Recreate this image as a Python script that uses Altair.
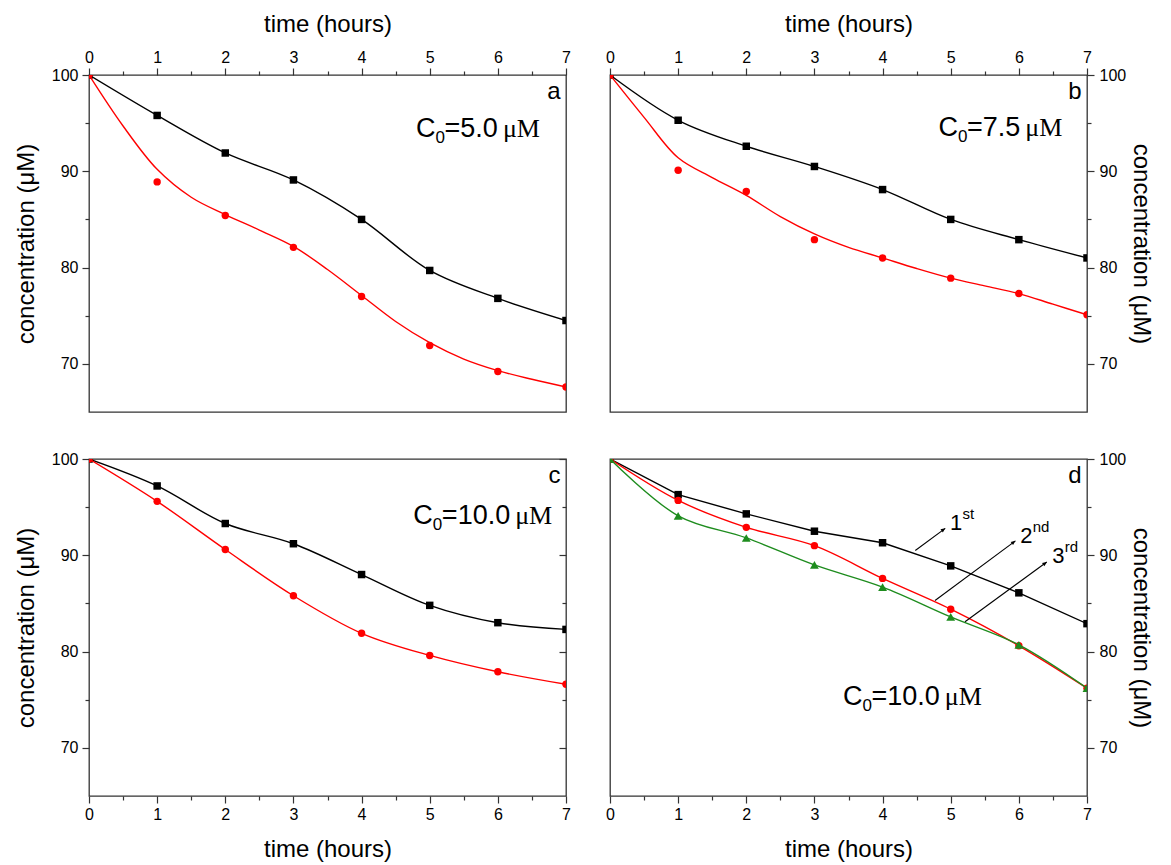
import altair as alt
import pandas as pd

# ---------------- data ----------------
hours = [0, 1, 2, 3, 4, 5, 6, 7]

a_black = [100, 95.8, 91.9, 89.1, 85.0, 79.7, 76.8, 74.5]
a_red = [100, 88.9, 85.4, 82.1, 77.0, 71.9, 69.2, 67.6]
fit_hours = [0, 0.5, 1, 1.5, 2, 2.5, 3, 3.5, 4, 4.5, 5, 5.5, 6, 6.5, 7]
a_red_fit = [100, 94.7, 90.2, 87.3, 85.5, 83.9, 82.2, 79.8, 77.1, 74.4, 72.2, 70.5, 69.3, 68.4, 67.6]

b_black = [100, 95.3, 92.6, 90.5, 88.1, 85.0, 82.9, 81.0]
b_red = [100, 90.1, 87.9, 82.9, 81.0, 78.9, 77.3, 75.1]
b_red_fit = [100, 95.6, 91.4, 89.35, 87.5, 85.3, 83.5, 82.1, 81.0, 79.9, 78.9, 78.1, 77.3, 76.2, 75.1]

c_black = [100, 97.2, 93.3, 91.2, 88.0, 84.8, 83.0, 82.3]
c_red = [100, 95.6, 90.6, 85.8, 81.9, 79.6, 77.9, 76.6]

d_first = [100, 96.3, 94.3, 92.5, 91.3, 88.9, 86.1, 82.9]
d_second = [100, 95.7, 92.9, 91.0, 87.6, 84.4, 80.6, 76.2]
d_third = [100, 94.1, 91.8, 89.0, 86.7, 83.6, 80.7, 76.2]

x_tick_values = [0, 0.5, 1, 1.5, 2, 2.5, 3, 3.5, 4, 4.5, 5, 5.5, 6, 6.5, 7]
y_tick_values = [70, 75, 80, 85, 90, 95, 100]

panel_letters = {"a": "a", "b": "b", "c": "c", "d": "d"}
conc_labels = {"a": "=5.0", "b": "=7.5", "c": "=10.0", "d": "=10.0"}
cycle_labels = [("1", "st"), ("2", "nd"), ("3", "rd")]

# ---------------- layout / style ----------------
W, H = 477, 337
SANS = "Liberation Sans"
SERIF = "Liberation Serif"
BLACK, RED, GREEN = "#000000", "#ff0000", "#1e8c1e"
AXC = "#333333"
SQ, CI, TR = 56, 55, 78

xs = alt.Scale(domain=[0, 7], nice=False, zero=False)
ys = alt.Scale(domain=[65, 100], nice=False, zero=False)


def x_axis(orient):
    return alt.Axis(
        orient=orient, title="time (hours)", values=x_tick_values,
        labelExpr="datum.value % 1 === 0 ? '' + datum.value : ''",
        tickSize={"condition": {"test": "datum.value % 1 === 0", "value": 7}, "value": 4},
        grid=False, domain=False, tickColor=AXC, tickWidth=1.2,
        labelFont=SANS, labelFontSize=16, labelColor="black", labelPadding=3,
        labelFlush=False, labelOverlap=False,
        titleFont=SANS, titleFontSize=24, titleFontWeight="normal", titleColor="black",
        titlePadding=13 if orient == "top" else 15,
    )


def y_axis(orient):
    return alt.Axis(
        orient=orient, title="concentration (μM)", values=y_tick_values,
        labelExpr="datum.value % 10 === 0 ? '' + datum.value : ''",
        tickSize={"condition": {"test": "datum.value % 10 === 0", "value": 7}, "value": 4},
        grid=False, domain=False, tickColor=AXC, tickWidth=1.2,
        labelFont=SANS, labelFontSize=16, labelColor="black",
        labelPadding=4 if orient == "left" else 5,
        labelFlush=False, labelOverlap=False,
        titleFont=SANS, titleFontSize=24, titleFontWeight="normal", titleColor="black",
        titlePadding=13 if orient == "left" else 3,
    )


mirror_axis = alt.Axis(
    orient="right", title=None, values=y_tick_values, labels=False,
    tickSize={"condition": {"test": "datum.value % 10 === 0", "value": -7}, "value": -4},
    grid=False, domain=False, tickColor=AXC, tickWidth=1.2,
)


def frame(xs_list, ys_list):
    return pd.DataFrame({"t": xs_list, "c": ys_list})


def series(pts, color, shape, size, interp, xa, ya, line_df=None):
    ldf = line_df if line_df is not None else pts
    line = alt.Chart(ldf).mark_line(color=color, strokeWidth=1.4, interpolate=interp, clip=True).encode(
        x=alt.X("t:Q", scale=xs, axis=xa), y=alt.Y("c:Q", scale=ys, axis=ya))
    dots = alt.Chart(pts).mark_point(shape=shape, filled=True, size=size, color=color, opacity=1,
                                     clip=True).encode(
        x=alt.X("t:Q", scale=xs, axis=xa), y=alt.Y("c:Q", scale=ys, axis=ya))
    return [line, dots]


def label(txt, x, y, xa, ya, font=SANS, size=24, dx=0, dy=0, align="left"):
    df = pd.DataFrame({"t": [x], "c": [y], "s": [txt]})
    return alt.Chart(df).mark_text(font=font, fontSize=size, dx=dx, dy=dy, align=align,
                                   baseline="middle", color="black").encode(
        x=alt.X("t:Q", scale=xs, axis=xa), y=alt.Y("c:Q", scale=ys, axis=ya), text="s:N")


def conc(key, x0, y0, xa, ya):
    rest = conc_labels[key]
    w_rest = 53.3 if len(rest) == 4 else 68.3
    return [
        label("C", x0, y0, xa, ya, size=27),
        label("0", x0, y0, xa, ya, size=17, dx=19.5, dy=9),
        label(rest, x0, y0, xa, ya, size=27, dx=28.5),
        label("μM", x0, y0, xa, ya, font=SERIF, size=26, dx=28.5 + w_rest + 5),
    ]


LETTER_X, LETTER_Y = 6.92, 98.2
SMOOTH = "catmull-rom"

# ---- panel a ----
xa, ya = x_axis("top"), y_axis("left")
la = []
la += series(frame(hours, a_black), BLACK, "square", SQ, SMOOTH, xa, ya)
la += series(frame(hours, a_red), RED, "circle", CI, SMOOTH, xa, ya, line_df=frame(fit_hours, a_red_fit))
la += [label(panel_letters["a"], LETTER_X, LETTER_Y, xa, ya, align="right")]
la += conc("a", 4.8, 94.4, xa, ya)
pa = alt.layer(*la).properties(width=W, height=H)

# ---- panel b ----
xa, ya = x_axis("top"), y_axis("right")
lb = []
lb += series(frame(hours, b_black), BLACK, "square", SQ, SMOOTH, xa, ya)
lb += series(frame(hours, b_red), RED, "circle", CI, SMOOTH, xa, ya, line_df=frame(fit_hours, b_red_fit))
lb += [label(panel_letters["b"], LETTER_X, LETTER_Y, xa, ya, align="right")]
lb += conc("b", 4.82, 94.5, xa, ya)
pb = alt.layer(*lb).properties(width=W, height=H)

# ---- panel c ----
xa, ya = x_axis("bottom"), y_axis("left")
lc = []
lc += series(frame(hours, c_black), BLACK, "square", SQ, SMOOTH, xa, ya)
lc += series(frame(hours, c_red), RED, "circle", CI, SMOOTH, xa, ya)
lc += [label(panel_letters["c"], LETTER_X, LETTER_Y, xa, ya, align="right")]
lc += conc("c", 4.76, 94.1, xa, ya)
mirror = alt.Chart(frame(hours, c_black)).mark_point(opacity=0).encode(
    x=alt.X("t:Q", scale=xs, axis=xa), y=alt.Y("c:Q", scale=ys, axis=mirror_axis))
pc = alt.layer(alt.layer(*lc), mirror).resolve_axis(y="independent").properties(width=W, height=H)

# ---- panel d ----
xa, ya = x_axis("bottom"), y_axis("right")
ld = []
ld += series(frame(hours, d_first), BLACK, "square", SQ, "linear", xa, ya)
ld += series(frame(hours, d_second), RED, "circle", CI, SMOOTH, xa, ya)
ld += series(frame(hours, d_third), GREEN, "triangle-up", TR, SMOOTH, xa, ya)
arrow_start_t = [4.48, 4.77, 5.21]
arrow_start_c = [90.5, 85.3, 83.1]
arrow_tip_t = [4.92, 5.95, 6.41]
arrow_tip_c = [92.8, 91.5, 89.3]
arrows = pd.DataFrame({"t": arrow_start_t, "c": arrow_start_c, "t2": arrow_tip_t, "c2": arrow_tip_c})
ld += [alt.Chart(arrows).mark_rule(color="black", strokeWidth=1.1).encode(
    x=alt.X("t:Q", scale=xs, axis=xa), y=alt.Y("c:Q", scale=ys, axis=ya), x2="t2:Q", y2="c2:Q")]
ld += [alt.Chart(arrows).mark_point(shape="M0,0L-2,-0.9L-2,0.9Z", filled=True, size=20, color="black",
                                     opacity=1, angle=323.5).encode(
    x=alt.X("t2:Q", scale=xs, axis=xa), y=alt.Y("c2:Q", scale=ys, axis=ya))]
cycle_pos = [(4.99, 93.4), (6.02, 92.0), (6.49, 89.9)]
for (num, sup), (cx, cy) in zip(cycle_labels, cycle_pos):
    ld += [label(num, cx, cy, xa, ya, size=22), label(sup, cx, cy, xa, ya, size=15, dx=12.5, dy=-9)]
ld += [label(panel_letters["d"], LETTER_X, LETTER_Y, xa, ya, align="right")]
ld += conc("d", 3.42, 75.3, xa, ya)
pd_ = alt.layer(*ld).properties(width=W, height=H)

top = alt.hconcat(pa, pb, spacing=32)
bottom = alt.hconcat(pc, pd_, spacing=32)
chart = alt.vconcat(top, bottom, spacing=37).properties(
    padding={"left": 5, "top": 3, "right": 6, "bottom": 0}, background="white"
).configure_view(stroke=AXC, strokeWidth=1.3)

chart.save("out.html", embed_options={"renderer": "svg", "actions": False})
